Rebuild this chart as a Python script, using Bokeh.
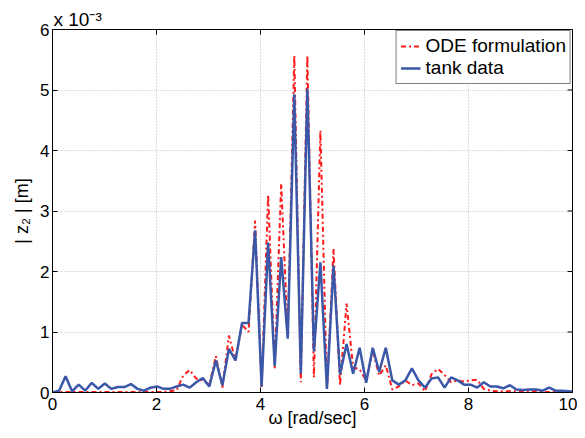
from bokeh.plotting import figure
from bokeh.models import Range1d, FixedTicker, Legend, LegendItem, Title
from bokeh.embed import file_html
from bokeh.resources import INLINE

# angular frequency samples [rad/sec]
omega = [0.000, 0.126, 0.251, 0.377, 0.503, 0.628, 0.754, 0.880, 1.005, 1.131,
         1.257, 1.382, 1.508, 1.634, 1.759, 1.885, 2.011, 2.136, 2.262, 2.388,
         2.513, 2.639, 2.765, 2.890, 3.016, 3.142, 3.267, 3.393, 3.519, 3.644,
         3.770, 3.896, 4.021, 4.147, 4.273, 4.398, 4.524, 4.650, 4.775, 4.901,
         5.027, 5.152, 5.278, 5.404, 5.529, 5.655, 5.781, 5.906, 6.032, 6.158,
         6.283, 6.409, 6.535, 6.660, 6.786, 6.912, 7.037, 7.163, 7.288, 7.414,
         7.540, 7.665, 7.791, 7.917, 8.042, 8.168, 8.294, 8.419, 8.545, 8.671,
         8.796, 8.922, 9.048, 9.173, 9.299, 9.425, 9.550, 9.676, 9.802, 9.927,
         10.053]

# |z2| in units of 1e-3 m
ode_formulation = [0.00, 0.01, 0.01, 0.01, 0.01, 0.01, 0.01, 0.01, 0.01, 0.01,
                   0.01, 0.01, 0.01, 0.01, 0.01, 0.01, 0.01, 0.01, 0.02, 0.04,
                   0.28, 0.37, 0.23, 0.20, 0.13, 0.60, 0.08, 0.94, 0.53, 1.12,
                   1.00, 2.84, 0.09, 3.27, 0.40, 3.45, 0.95, 5.57, 0.17, 5.57,
                   0.25, 4.33, 0.05, 2.37, 0.12, 1.47, 0.42, 0.38, 0.20, 0.69,
                   0.28, 0.45, 0.05, 0.10, 0.20, 0.12, 0.15, 0.02, 0.30, 0.39,
                   0.29, 0.17, 0.20, 0.18, 0.20, 0.21, 0.06, 0.03, 0.02, 0.02,
                   0.02, 0.02, 0.02, 0.02, 0.02, 0.01, 0.01, 0.01, 0.01, 0.01,
                   0.01]

tank_data = [0.00, 0.03, 0.27, 0.02, 0.13, 0.03, 0.16, 0.06, 0.15, 0.06,
             0.09, 0.09, 0.14, 0.06, 0.03, 0.08, 0.10, 0.06, 0.06, 0.10,
             0.13, 0.08, 0.17, 0.24, 0.10, 0.53, 0.12, 0.72, 0.53, 1.15,
             1.15, 2.68, 0.10, 2.48, 0.44, 2.24, 0.89, 4.93, 0.31, 5.02,
             0.68, 2.15, 0.06, 2.10, 0.30, 0.80, 0.31, 0.74, 0.16, 0.74,
             0.34, 0.74, 0.20, 0.13, 0.20, 0.40, 0.20, 0.08, 0.23, 0.25,
             0.08, 0.25, 0.20, 0.13, 0.13, 0.08, 0.17, 0.10, 0.10, 0.07,
             0.12, 0.05, 0.04, 0.05, 0.05, 0.03, 0.08, 0.03, 0.03, 0.02,
             0.01]

x_ticks = [0, 2, 4, 6, 8, 10]
y_ticks = [0, 1, 2, 3, 4, 5, 6]

FONT = "Liberation Sans"
X_MIN, X_MAX, Y_MIN, Y_MAX = 0, 10, 0, 6

p = figure(width=577, height=430, output_backend="svg", toolbar_location=None,
           x_range=Range1d(X_MIN, X_MAX), y_range=Range1d(Y_MIN, Y_MAX),
           min_border_left=52, min_border_right=5, min_border_top=29,
           min_border_bottom=38, title=None)
p.background_fill_color = "white"
p.border_fill_color = "white"
p.outline_line_color = "black"
p.outline_line_width = 1

# exponent of the y axis, as a left-aligned title above the frame
exp_title = Title(text="x 10⁻³", align="left", offset=1, standoff=0,
                  text_font=FONT, text_font_size="19px",
                  text_font_style="normal", text_color="black")
p.add_layout(exp_title, "above")

# grid
p.xgrid.ticker = FixedTicker(ticks=x_ticks)
p.ygrid.ticker = FixedTicker(ticks=y_ticks)
for g in [p.xgrid[0], p.ygrid[0]]:
    g.grid_line_color = "#b8b8b8"
    g.grid_line_dash = "1 2"
    g.grid_line_width = 1

# inward tick marks on the top and right edges of the box
tick_len_y = 5 / 60.5   # 5 px in y data units
tick_len_x = 5 / 52.0   # 5 px in x data units
p.segment(x0=x_ticks, y0=[Y_MAX] * len(x_ticks), x1=x_ticks,
          y1=[Y_MAX - tick_len_y] * len(x_ticks), line_color="black", line_width=1)
p.segment(x0=[X_MAX] * len(y_ticks), y0=y_ticks, x1=[X_MAX - tick_len_x] * len(y_ticks),
          y1=y_ticks, line_color="black", line_width=1)

r_ode = p.line(omega, ode_formulation, line_color="#ff1a1a", line_width=2,
               line_dash="5 3 2 3")
r_tank = p.line(omega, tank_data, line_color="#3a57a8", line_width=2.5)

# axes
for ax in [p.xaxis[0], p.yaxis[0]]:
    ax.axis_line_color = "black"
    ax.major_tick_line_color = "black"
    ax.major_tick_in = 5
    ax.major_tick_out = 0
    ax.minor_tick_line_color = None
    ax.major_label_text_font = FONT
    ax.major_label_text_font_size = "17px"
    ax.major_label_text_color = "black"
    ax.axis_label_text_font = FONT
    ax.axis_label_text_font_size = "18px"
    ax.axis_label_text_font_style = "normal"
    ax.axis_label_text_color = "black"

p.xaxis[0].ticker = FixedTicker(ticks=x_ticks)
p.yaxis[0].ticker = FixedTicker(ticks=y_ticks)
p.xaxis[0].axis_label = "ω [rad/sec]"
p.xaxis[0].major_label_standoff = 5
p.xaxis[0].axis_label_standoff = -5
p.yaxis[0].axis_label = "| z₂ | [m]"
p.yaxis[0].major_label_standoff = 3
p.yaxis[0].axis_label_standoff = 5

legend = Legend(items=[LegendItem(label="ODE formulation", renderers=[r_ode]),
                       LegendItem(label="tank data", renderers=[r_tank])],
                location="top_right")
legend.border_line_color = "black"
legend.border_line_width = 1
legend.background_fill_color = "white"
legend.background_fill_alpha = 1
legend.label_text_font = FONT
legend.label_text_font_size = "19px"
legend.label_text_color = "black"
legend.glyph_width = 20
legend.glyph_height = 22
legend.label_height = 22
legend.label_standoff = 5
legend.spacing = 0
legend.padding = 4
legend.margin = 1
p.add_layout(legend)

open("out.html", "w").write(file_html(p, INLINE))
